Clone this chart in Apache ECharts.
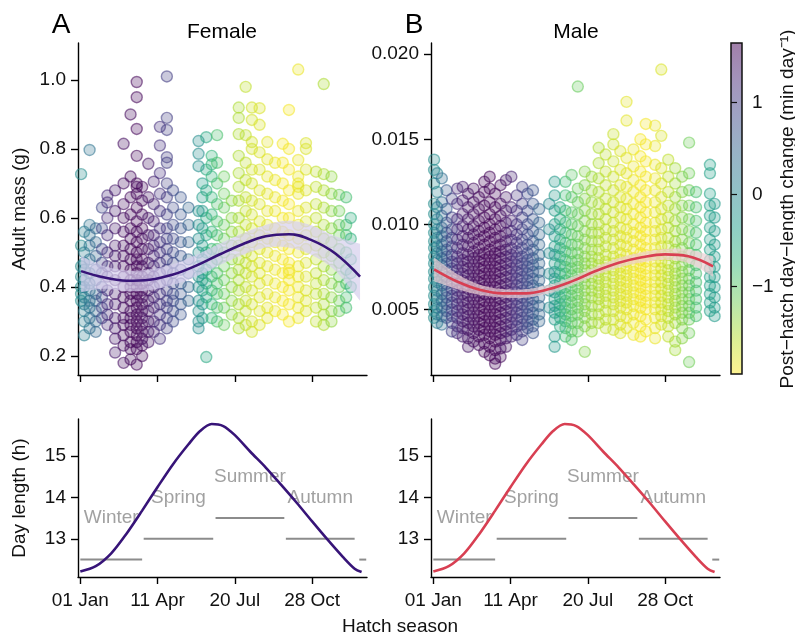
<!DOCTYPE html>
<html>
<head>
<meta charset="utf-8">
<script src="https://cdn.jsdelivr.net/npm/echarts@6/dist/echarts.min.js"></script>
<style>
html, body { margin: 0; padding: 0; background: #fff; }
#chart { width: 795px; height: 637px; }
</style>
</head>
<body>
<div id="chart"></div>
<script>
// ---- axis ticks and labels ----
const seasonTicks = [0, 100, 200, 300];
const seasonTickLabels = ['01 Jan', '11 Apr', '20 Jul', '28 Oct'];
const femaleMassTicks = [0.2, 0.4, 0.6, 0.8, 1.0];
const maleMassTicks = [0.005, 0.010, 0.015, 0.020];
const dayLengthTicks = [13, 14, 15];
const shiftTicks = [-1, 0, 1];
const shiftRange = [-1.95, 1.645];

// ---- adults by hatch day: [hatch day, post-hatch day-length change, adult masses (g)] ----
const femaleColumns = [
  [1, -0.1, [0.727, 0.52, 0.46, 0.43, 0.40, 0.38, 0.36]],
  [5, 0.1, [0.56, 0.50, 0.47, 0.45, 0.42, 0.40, 0.37, 0.35, 0.33, 0.30, 0.26]],
  [12, 0.3, [0.797, 0.58, 0.55, 0.52, 0.48, 0.44, 0.41, 0.39, 0.36, 0.34, 0.31, 0.28]],
  [20, 0.5, [0.57, 0.53, 0.49, 0.45, 0.42, 0.38, 0.36, 0.33, 0.30, 0.27]],
  [28, 0.9, [0.63, 0.57, 0.51, 0.47, 0.44, 0.40, 0.37, 0.34, 0.31]],
  [35, 1.2, [0.665, 0.645, 0.60, 0.55, 0.50, 0.46, 0.43, 0.39, 0.35, 0.32, 0.29]],
  [45, 1.4, [0.68, 0.62, 0.57, 0.52, 0.49, 0.46, 0.42, 0.38, 0.35, 0.31, 0.28, 0.25, 0.21]],
  [56, 1.5, [0.815, 0.70, 0.64, 0.60, 0.56, 0.52, 0.49, 0.46, 0.43, 0.40, 0.37, 0.34, 0.31, 0.29, 0.26, 0.23, 0.18]],
  [65, 1.55, [0.90, 0.72, 0.66, 0.61, 0.57, 0.54, 0.51, 0.48, 0.45, 0.42, 0.40, 0.38, 0.36, 0.33, 0.31, 0.29, 0.27, 0.24, 0.22, 0.19]],
  [73, 1.6, [0.994, 0.95, 0.858, 0.78, 0.70, 0.69, 0.67, 0.63, 0.59, 0.56, 0.53, 0.50, 0.48, 0.46, 0.44, 0.42, 0.40, 0.38, 0.36, 0.34, 0.32, 0.30, 0.28, 0.26, 0.24, 0.22, 0.175]],
  [80, 1.55, [0.69, 0.65, 0.61, 0.57, 0.54, 0.51, 0.48, 0.46, 0.43, 0.41, 0.39, 0.37, 0.35, 0.33, 0.31, 0.29, 0.27, 0.25, 0.23, 0.20]],
  [88, 1.45, [0.757, 0.66, 0.60, 0.55, 0.51, 0.47, 0.44, 0.42, 0.39, 0.36, 0.33, 0.30, 0.27, 0.24]],
  [95, 1.3, [0.705, 0.64, 0.59, 0.55, 0.52, 0.49, 0.46, 0.43, 0.40, 0.37, 0.34, 0.30, 0.27]],
  [103, 1.15, [0.864, 0.81, 0.73, 0.67, 0.62, 0.57, 0.53, 0.50, 0.47, 0.44, 0.41, 0.38, 0.35, 0.32, 0.29, 0.25]],
  [112, 1.0, [1.01, 0.89, 0.855, 0.776, 0.76, 0.70, 0.66, 0.61, 0.57, 0.54, 0.51, 0.48, 0.45, 0.42, 0.39, 0.36, 0.34, 0.31, 0.28]],
  [120, 0.85, [0.68, 0.63, 0.58, 0.54, 0.50, 0.47, 0.44, 0.41, 0.38, 0.36, 0.33, 0.30]],
  [130, 0.7, [0.66, 0.61, 0.57, 0.53, 0.49, 0.45, 0.41, 0.38, 0.35, 0.32]],
  [140, 0.5, [0.63, 0.58, 0.53, 0.48, 0.44, 0.40, 0.36]],
  [153, -0.1, [0.823, 0.786, 0.75, 0.62, 0.58, 0.54, 0.50, 0.46, 0.43, 0.40, 0.36, 0.33, 0.30, 0.28]],
  [158, -0.3, [0.70, 0.66, 0.62, 0.57, 0.52, 0.48, 0.44, 0.42, 0.39, 0.35, 0.31]],
  [163, -0.5, [0.834, 0.74, 0.68, 0.60, 0.55, 0.50, 0.45, 0.41, 0.37, 0.197]],
  [170, -0.7, [0.78, 0.755, 0.72, 0.66, 0.61, 0.56, 0.51, 0.47, 0.43, 0.39, 0.35, 0.31]],
  [177, -0.9, [0.84, 0.76, 0.70, 0.64, 0.59, 0.55, 0.51, 0.48, 0.44, 0.41, 0.38, 0.34, 0.30]],
  [186, -1.1, [0.72, 0.67, 0.63, 0.58, 0.54, 0.50, 0.46, 0.42, 0.38, 0.34, 0.29]],
  [196, -1.3, [0.65, 0.60, 0.56, 0.52, 0.48, 0.44, 0.40, 0.36, 0.32]],
  [205, -1.5, [0.92, 0.89, 0.843, 0.78, 0.73, 0.69, 0.65, 0.60, 0.56, 0.52, 0.48, 0.45, 0.42, 0.39, 0.35, 0.31, 0.28]],
  [214, -1.6, [0.98, 0.84, 0.76, 0.71, 0.66, 0.62, 0.58, 0.54, 0.50, 0.47, 0.44, 0.40, 0.36, 0.33, 0.29]],
  [222, -1.7, [0.92, 0.884, 0.82, 0.80, 0.74, 0.70, 0.65, 0.61, 0.57, 0.53, 0.49, 0.46, 0.43, 0.39, 0.35, 0.30, 0.27]],
  [232, -1.75, [0.918, 0.87, 0.79, 0.74, 0.68, 0.64, 0.59, 0.55, 0.51, 0.47, 0.44, 0.41, 0.37, 0.33, 0.29]],
  [242, -1.8, [0.82, 0.77, 0.72, 0.67, 0.62, 0.58, 0.54, 0.50, 0.46, 0.42, 0.38, 0.34, 0.31]],
  [252, -1.85, [0.76, 0.71, 0.66, 0.62, 0.57, 0.53, 0.49, 0.45, 0.41, 0.37, 0.33]],
  [262, -1.9, [0.815, 0.76, 0.70, 0.65, 0.60, 0.56, 0.52, 0.48, 0.44, 0.40, 0.36, 0.32]],
  [270, -1.9, [0.913, 0.80, 0.74, 0.68, 0.64, 0.60, 0.55, 0.51, 0.47, 0.45, 0.44, 0.42, 0.39, 0.35, 0.30]],
  [282, -1.85, [1.03, 0.768, 0.72, 0.70, 0.69, 0.67, 0.62, 0.58, 0.54, 0.50, 0.46, 0.43, 0.40, 0.37, 0.34, 0.31]],
  [292, -1.75, [0.817, 0.80, 0.74, 0.68, 0.63, 0.59, 0.55, 0.51, 0.47, 0.43, 0.39, 0.36, 0.33]],
  [305, -1.6, [0.734, 0.69, 0.64, 0.60, 0.56, 0.52, 0.48, 0.44, 0.41, 0.38, 0.34, 0.30]],
  [315, -1.5, [0.988, 0.727, 0.68, 0.63, 0.58, 0.54, 0.50, 0.46, 0.42, 0.38, 0.35, 0.32, 0.29]],
  [325, -1.35, [0.72, 0.67, 0.62, 0.57, 0.53, 0.49, 0.45, 0.41, 0.37, 0.33, 0.30]],
  [335, -1.15, [0.667, 0.62, 0.58, 0.55, 0.51, 0.47, 0.43, 0.40, 0.36, 0.33]],
  [344, -0.85, [0.66, 0.58, 0.55, 0.50, 0.45, 0.41, 0.37, 0.34]],
  [350, -0.6, [0.60, 0.54, 0.48, 0.44, 0.40]]
];

const maleColumns = [
  [1, -0.1, [0.0138, 0.0132, 0.0124, 0.0112, 0.0106, 0.0100, 0.0095, 0.0090, 0.0086, 0.0081, 0.0077, 0.0072, 0.0068, 0.0063, 0.0058, 0.0053, 0.0049, 0.0045]],
  [5, 0.05, [0.0130, 0.0119, 0.0110, 0.0103, 0.0097, 0.0092, 0.0087, 0.0083, 0.0079, 0.0075, 0.0070, 0.0066, 0.0061, 0.0056, 0.0051, 0.0047, 0.0042]],
  [11, 0.4, [0.0127, 0.0113, 0.0105, 0.0098, 0.0093, 0.0088, 0.0084, 0.0080, 0.0076, 0.0072, 0.0068, 0.0064, 0.0059, 0.0055, 0.0051, 0.0046, 0.0041]],
  [17, 0.65, [0.0120, 0.0109, 0.0101, 0.0095, 0.0090, 0.0085, 0.0081, 0.0077, 0.0073, 0.0069, 0.0065, 0.0061, 0.0057, 0.0053, 0.0049, 0.0045]],
  [24, 0.95, [0.0115, 0.0104, 0.0097, 0.0092, 0.0087, 0.0082, 0.0078, 0.0074, 0.0070, 0.0066, 0.0062, 0.0058, 0.0054, 0.0050, 0.0046, 0.0042, 0.0037]],
  [31, 1.2, [0.0121, 0.0112, 0.0103, 0.0097, 0.0091, 0.0086, 0.0081, 0.0077, 0.0073, 0.0069, 0.0065, 0.0061, 0.0057, 0.0053, 0.0049, 0.0045, 0.0040, 0.0036]],
  [38, 1.35, [0.0122, 0.0114, 0.0106, 0.0099, 0.0093, 0.0088, 0.0083, 0.0079, 0.0075, 0.0071, 0.0067, 0.0063, 0.0059, 0.0055, 0.0051, 0.0047, 0.0043, 0.0039, 0.0034]],
  [45, 1.45, [0.0118, 0.0110, 0.0103, 0.0097, 0.0092, 0.0087, 0.0082, 0.0078, 0.0074, 0.0070, 0.0066, 0.0062, 0.0058, 0.0054, 0.0050, 0.0046, 0.0042, 0.0038, 0.0033, 0.0028]],
  [52, 1.5, [0.0121, 0.0113, 0.0106, 0.0099, 0.0094, 0.0089, 0.0084, 0.0080, 0.0076, 0.0072, 0.0068, 0.0064, 0.0060, 0.0056, 0.0052, 0.0048, 0.0044, 0.0040, 0.0036, 0.0031]],
  [59, 1.55, [0.0116, 0.0109, 0.0102, 0.0096, 0.0091, 0.0086, 0.0082, 0.0078, 0.0074, 0.0070, 0.0066, 0.0062, 0.0058, 0.0054, 0.0050, 0.0046, 0.0042, 0.0038, 0.0034, 0.0029]],
  [66, 1.6, [0.0125, 0.0119, 0.0111, 0.0104, 0.0098, 0.0093, 0.0088, 0.0083, 0.0079, 0.0075, 0.0071, 0.0067, 0.0063, 0.0059, 0.0055, 0.0051, 0.0047, 0.0043, 0.0039, 0.0035, 0.0030, 0.0025]],
  [73, 1.6, [0.0128, 0.0121, 0.0113, 0.0106, 0.0100, 0.0095, 0.0090, 0.0085, 0.0081, 0.0077, 0.0073, 0.0069, 0.0065, 0.0061, 0.0057, 0.0053, 0.0049, 0.0045, 0.0041, 0.0037, 0.0033, 0.0028, 0.0023]],
  [80, 1.6, [0.0118, 0.0110, 0.0103, 0.0097, 0.0092, 0.0087, 0.0083, 0.0079, 0.0075, 0.0071, 0.0067, 0.0063, 0.0059, 0.0055, 0.0051, 0.0047, 0.0043, 0.0039, 0.0035, 0.0031, 0.0026, 0.0021, 0.0018]],
  [87, 1.55, [0.0123, 0.0112, 0.0105, 0.0099, 0.0093, 0.0088, 0.0084, 0.0080, 0.0076, 0.0072, 0.0068, 0.0064, 0.0060, 0.0056, 0.0052, 0.0048, 0.0044, 0.0040, 0.0036, 0.0032, 0.0027, 0.0022]],
  [94, 1.45, [0.0126, 0.0116, 0.0108, 0.0101, 0.0095, 0.0090, 0.0085, 0.0081, 0.0077, 0.0073, 0.0069, 0.0065, 0.0061, 0.0057, 0.0053, 0.0049, 0.0045, 0.0041, 0.0037, 0.0033, 0.0028]],
  [101, 1.3, [0.0128, 0.0110, 0.0102, 0.0096, 0.0091, 0.0086, 0.0082, 0.0078, 0.0074, 0.0070, 0.0066, 0.0062, 0.0058, 0.0054, 0.0050, 0.0046, 0.0042, 0.0038, 0.0034]],
  [108, 1.15, [0.0117, 0.0108, 0.0100, 0.0094, 0.0089, 0.0084, 0.0080, 0.0076, 0.0072, 0.0068, 0.0064, 0.0060, 0.0056, 0.0052, 0.0048, 0.0044, 0.0040, 0.0035]],
  [115, 1.0, [0.0122, 0.0112, 0.0104, 0.0097, 0.0091, 0.0086, 0.0081, 0.0077, 0.0073, 0.0069, 0.0065, 0.0061, 0.0057, 0.0053, 0.0049, 0.0045, 0.0041, 0.0037, 0.0032]],
  [122, 0.85, [0.0118, 0.0108, 0.0100, 0.0094, 0.0088, 0.0083, 0.0079, 0.0075, 0.0071, 0.0067, 0.0063, 0.0059, 0.0055, 0.0051, 0.0047, 0.0043, 0.0039]],
  [129, 0.7, [0.0120, 0.0112, 0.0103, 0.0096, 0.0090, 0.0085, 0.0080, 0.0076, 0.0072, 0.0068, 0.0064, 0.0060, 0.0056, 0.0052, 0.0048, 0.0044, 0.0040, 0.0036]],
  [137, 0.5, [0.0109, 0.0101, 0.0094, 0.0088, 0.0082, 0.0077, 0.0072, 0.0067, 0.0062, 0.0057, 0.0052, 0.0047, 0.0043]],
  [150, 0.0, [0.0112, 0.0097, 0.0083, 0.0071, 0.0061, 0.0051]],
  [157, -0.25, [0.0125, 0.0117, 0.0108, 0.0100, 0.0093, 0.0087, 0.0082, 0.0077, 0.0072, 0.0068, 0.0064, 0.0060, 0.0056, 0.0052, 0.0048, 0.0044, 0.0034, 0.0028]],
  [164, -0.5, [0.0110, 0.0103, 0.0097, 0.0091, 0.0086, 0.0081, 0.0076, 0.0071, 0.0066, 0.0062, 0.0057, 0.0053, 0.0049, 0.0045, 0.0040]],
  [171, -0.8, [0.0125, 0.0117, 0.0108, 0.0101, 0.0095, 0.0089, 0.0084, 0.0079, 0.0075, 0.0071, 0.0067, 0.0063, 0.0059, 0.0055, 0.0051, 0.0047, 0.0043, 0.0039, 0.0034]],
  [179, -1.0, [0.0129, 0.0116, 0.0107, 0.0100, 0.0094, 0.0088, 0.0083, 0.0078, 0.0074, 0.0070, 0.0066, 0.0062, 0.0058, 0.0054, 0.0050, 0.0046, 0.0042, 0.0037, 0.0032]],
  [187, -1.1, [0.0181, 0.0121, 0.0113, 0.0106, 0.0099, 0.0093, 0.0088, 0.0083, 0.0079, 0.0075, 0.0071, 0.0067, 0.0063, 0.0059, 0.0055, 0.0051, 0.0047, 0.0042, 0.0037]],
  [196, -1.25, [0.0131, 0.0123, 0.0115, 0.0108, 0.0102, 0.0096, 0.0091, 0.0086, 0.0081, 0.0077, 0.0073, 0.0069, 0.0065, 0.0061, 0.0057, 0.0053, 0.0049, 0.0045, 0.0040, 0.0025]],
  [205, -1.4, [0.0128, 0.0120, 0.0113, 0.0106, 0.0100, 0.0095, 0.0090, 0.0085, 0.0081, 0.0077, 0.0073, 0.0069, 0.0065, 0.0061, 0.0057, 0.0052, 0.0047, 0.0042, 0.0037]],
  [214, -1.5, [0.0145, 0.0136, 0.0127, 0.0119, 0.0112, 0.0106, 0.0100, 0.0095, 0.0090, 0.0085, 0.0080, 0.0076, 0.0072, 0.0068, 0.0064, 0.0060, 0.0056, 0.0052, 0.0047, 0.0042]],
  [223, -1.6, [0.0141, 0.0131, 0.0123, 0.0115, 0.0109, 0.0103, 0.0097, 0.0092, 0.0087, 0.0082, 0.0078, 0.0074, 0.0070, 0.0066, 0.0062, 0.0058, 0.0054, 0.0049, 0.0044, 0.0039]],
  [233, -1.65, [0.0153, 0.0147, 0.0137, 0.0128, 0.0120, 0.0113, 0.0107, 0.0101, 0.0096, 0.0091, 0.0086, 0.0081, 0.0077, 0.0073, 0.0069, 0.0065, 0.0061, 0.0057, 0.0053, 0.0049, 0.0044, 0.0038]],
  [242, -1.75, [0.0143, 0.0132, 0.0123, 0.0116, 0.0110, 0.0104, 0.0098, 0.0093, 0.0088, 0.0083, 0.0079, 0.0075, 0.0071, 0.0067, 0.0063, 0.0059, 0.0055, 0.0051, 0.0046, 0.0041, 0.0036]],
  [250, -1.8, [0.0172, 0.0161, 0.0139, 0.0130, 0.0122, 0.0115, 0.0109, 0.0103, 0.0097, 0.0092, 0.0087, 0.0082, 0.0078, 0.0074, 0.0070, 0.0066, 0.0062, 0.0058, 0.0054, 0.0050, 0.0045, 0.0039]],
  [259, -1.85, [0.0144, 0.0134, 0.0126, 0.0119, 0.0112, 0.0106, 0.0100, 0.0095, 0.0090, 0.0085, 0.0080, 0.0076, 0.0072, 0.0068, 0.0064, 0.0060, 0.0056, 0.0052, 0.0047, 0.0042, 0.0035]],
  [268, -1.9, [0.0150, 0.0140, 0.0131, 0.0123, 0.0116, 0.0110, 0.0104, 0.0098, 0.0093, 0.0088, 0.0083, 0.0079, 0.0075, 0.0071, 0.0067, 0.0063, 0.0059, 0.0055, 0.0051, 0.0046, 0.0040, 0.0034]],
  [275, -1.9, [0.0159, 0.0147, 0.0137, 0.0128, 0.0120, 0.0113, 0.0107, 0.0101, 0.0096, 0.0091, 0.0086, 0.0082, 0.0078, 0.0074, 0.0070, 0.0066, 0.0062, 0.0058, 0.0054, 0.0050, 0.0044, 0.0037]],
  [287, -1.85, [0.0158, 0.0146, 0.0135, 0.0127, 0.0120, 0.0113, 0.0107, 0.0101, 0.0096, 0.0091, 0.0086, 0.0082, 0.0078, 0.0074, 0.0070, 0.0066, 0.0062, 0.0058, 0.0054, 0.0050, 0.0045, 0.0039, 0.0033]],
  [295, -1.75, [0.0191, 0.0152, 0.0133, 0.0124, 0.0116, 0.0109, 0.0103, 0.0097, 0.0092, 0.0087, 0.0082, 0.0078, 0.0074, 0.0070, 0.0066, 0.0062, 0.0058, 0.0054, 0.0050, 0.0046, 0.0041]],
  [304, -1.6, [0.0138, 0.0128, 0.0119, 0.0111, 0.0104, 0.0098, 0.0092, 0.0087, 0.0082, 0.0077, 0.0073, 0.0069, 0.0065, 0.0061, 0.0057, 0.0053, 0.0049, 0.0045, 0.0040, 0.0034]],
  [313, -1.45, [0.0133, 0.0124, 0.0116, 0.0109, 0.0102, 0.0096, 0.0090, 0.0085, 0.0080, 0.0075, 0.0071, 0.0067, 0.0063, 0.0059, 0.0055, 0.0051, 0.0047, 0.0042, 0.0031, 0.0026]],
  [322, -1.3, [0.0128, 0.0119, 0.0111, 0.0104, 0.0097, 0.0091, 0.0086, 0.0081, 0.0076, 0.0072, 0.0068, 0.0064, 0.0060, 0.0056, 0.0052, 0.0048, 0.0044, 0.0039, 0.0033]],
  [331, -1.15, [0.0148, 0.0130, 0.0120, 0.0111, 0.0103, 0.0096, 0.0089, 0.0083, 0.0078, 0.0073, 0.0068, 0.0064, 0.0060, 0.0056, 0.0052, 0.0048, 0.0044, 0.0036, 0.0019]],
  [340, -0.85, [0.0119, 0.0110, 0.0102, 0.0095, 0.0088, 0.0082, 0.0076, 0.0071, 0.0066, 0.0061, 0.0056, 0.0051, 0.0046]],
  [358, -0.4, [0.0135, 0.0130, 0.0118, 0.0111, 0.0105, 0.0098, 0.0091, 0.0085, 0.0079, 0.0074, 0.0069, 0.0064, 0.0059, 0.0054, 0.0049]],
  [364, -0.3, [0.0112, 0.0104, 0.0096, 0.0088, 0.0081, 0.0075, 0.0069, 0.0063, 0.0057, 0.0051, 0.0046]]
];

// ---- fitted seasonal trend with confidence band ----
const fitDays = [1, 30, 60, 90, 120, 150, 180, 210, 240, 270, 300, 330, 362];
const femaleFit = [0.446, 0.428, 0.418, 0.421, 0.436, 0.462, 0.494, 0.524, 0.547, 0.553, 0.535, 0.497, 0.430];
const femaleLo = [0.385, 0.395, 0.388, 0.391, 0.406, 0.431, 0.463, 0.493, 0.514, 0.514, 0.492, 0.447, 0.360];
const femaleHi = [0.490, 0.461, 0.448, 0.451, 0.466, 0.493, 0.525, 0.555, 0.580, 0.592, 0.578, 0.547, 0.525];
const maleFit = [0.00735, 0.00665, 0.00615, 0.00594, 0.00594, 0.00619, 0.00666, 0.00725, 0.00774, 0.00806, 0.00823, 0.00812, 0.00752];
const maleLo = [0.00665, 0.00620, 0.00585, 0.00569, 0.00569, 0.00594, 0.00641, 0.00700, 0.00746, 0.00776, 0.00791, 0.00772, 0.00692];
const maleHi = [0.00805, 0.00710, 0.00645, 0.00619, 0.00619, 0.00644, 0.00691, 0.00750, 0.00802, 0.00836, 0.00855, 0.00852, 0.00812];

// ---- photoperiod over the year ----
const photoDays = [0, 20, 40, 60, 80, 100, 120, 140, 155, 170, 185, 200, 220, 240, 260, 280, 300, 320, 340, 355, 364];
const dayLengthHours = [12.21, 12.34, 12.65, 13.13, 13.68, 14.25, 14.80, 15.28, 15.60, 15.77, 15.72, 15.50, 15.10, 14.72, 14.30, 13.87, 13.42, 12.98, 12.56, 12.28, 12.20];

// ---- astronomical seasons ----
const seasonNames = ['Winter', 'Spring', 'Summer', 'Autumn', ''];
const seasonStart = [0, 82, 175, 266, 361];
const seasonEnd = [80, 172, 264, 355, 370];
const seasonLevel = [12.5, 13, 13.5, 13, 12.5];

const FONT = '"Liberation Sans", Arial, Helvetica, sans-serif';
const INK = '#111';
const femaleColor = '#371478';
const maleColor = '#d83f52';

const viridisStops = ['#440154', '#482878', '#3e4989', '#31688e', '#26828e', '#1f9e89', '#35b779', '#6ece58', '#b5de2b', '#fde725'];
function hexRgb(h) { return [1, 3, 5].map(i => parseInt(h.slice(i, i + 2), 16)); }
function viridis(t, a) {
  t = Math.max(0, Math.min(1, t));
  const p = t * (viridisStops.length - 1);
  const i = Math.min(Math.floor(p), viridisStops.length - 2);
  const f = p - i;
  const c0 = hexRgb(viridisStops[i]), c1 = hexRgb(viridisStops[i + 1]);
  const c = c0.map((v, k) => Math.round(v + (c1[k] - v) * f));
  return 'rgba(' + c[0] + ',' + c[1] + ',' + c[2] + ',' + a + ')';
}
// higher day-length change -> purple end of the reversed viridis scale
function shiftPos(s) { return (shiftRange[1] - s) / (shiftRange[1] - shiftRange[0]); }

function columnPoints(columns) {
  const pts = [];
  columns.forEach(([day, shift, masses]) => {
    const t = shiftPos(shift);
    masses.forEach(m => pts.push({
      value: [day, m, shift],
      itemStyle: { color: viridis(t, 0.35), borderColor: viridis(t, 0.7) }
    }));
  });
  return pts;
}
const pairs = (xs, ys) => xs.map((x, i) => [x, ys[i]]);

// Catmull-Rom through pixel points, for a smooth band outline
function spline(pts, steps) {
  const out = [];
  for (let i = 0; i < pts.length - 1; i++) {
    const p0 = pts[Math.max(i - 1, 0)], p1 = pts[i], p2 = pts[i + 1], p3 = pts[Math.min(i + 2, pts.length - 1)];
    for (let s = 0; s < steps; s++) {
      const t = s / steps, t2 = t * t, t3 = t2 * t;
      out.push([0, 1].map(k => 0.5 * ((2 * p1[k]) + (-p0[k] + p2[k]) * t +
        (2 * p0[k] - 5 * p1[k] + 4 * p2[k] - p3[k]) * t2 + (-p0[k] + 3 * p1[k] - 3 * p2[k] + p3[k]) * t3)));
    }
  }
  out.push(pts[pts.length - 1]);
  return out;
}

function bandSeries(idx, lo, hi, fill) {
  return {
    type: 'custom', xAxisIndex: idx, yAxisIndex: idx, silent: true, z: 3,
    data: fitDays.map((d, i) => [d, lo[i], hi[i]]),
    renderItem: function (params, api) {
      if (params.dataIndex !== 0) return null;
      const upper = fitDays.map((d, i) => api.coord([d, hi[i]]));
      const lower = fitDays.map((d, i) => api.coord([d, lo[i]]));
      const pts = spline(upper, 12).concat(spline(lower, 12).reverse());
      return { type: 'polygon', shape: { points: pts }, style: { fill: fill } };
    }
  };
}

function seasonSeries(idx) {
  const out = [];
  seasonStart.forEach((s, i) => {
    out.push({ type: 'line', xAxisIndex: idx, yAxisIndex: idx, symbol: 'none', silent: true,
      lineStyle: { color: '#8c8c8c', width: 2 }, data: [[s, seasonLevel[i]], [seasonEnd[i], seasonLevel[i]]], z: 2 });
  });
  out.push({ type: 'scatter', xAxisIndex: idx, yAxisIndex: idx, symbolSize: 1, silent: true,
    itemStyle: { color: 'rgba(0,0,0,0)' },
    label: { show: true, position: 'inside', formatter: p => p.name, color: '#8a8a8a', fontSize: 19, fontFamily: FONT },
    data: seasonStart.map((s, i) => ({ name: seasonNames[i], value: [(s + seasonEnd[i]) / 2, seasonLevel[i] + 1] }))
      .filter(d => d.name), z: 4 });
  return out;
}

const axisLineStyle = { color: '#000', width: 1.4 };
function xAxisFor(grid, showLabels) {
  return {
    type: 'value', gridIndex: grid, min: -3, max: 371,
    axisLine: { show: true, onZero: false, lineStyle: axisLineStyle },
    axisTick: { show: true, length: 7, customValues: seasonTicks, lineStyle: axisLineStyle },
    axisLabel: { show: showLabels, customValues: seasonTicks, margin: 14, fontSize: 19, color: INK, fontFamily: FONT,
      formatter: v => seasonTickLabels[seasonTicks.indexOf(v)] },
    splitLine: { show: false }
  };
}
function yAxisFor(grid, min, max, ticks, digits) {
  return {
    type: 'value', gridIndex: grid, min: min, max: max,
    axisLine: { show: true, onZero: false, lineStyle: axisLineStyle },
    axisTick: { show: true, length: 7, customValues: ticks, lineStyle: axisLineStyle },
    axisLabel: { customValues: ticks, margin: 12, fontSize: 19, color: INK, fontFamily: FONT,
      formatter: v => v.toFixed(digits) },
    splitLine: { show: false }
  };
}

const colorbarFill = new echarts.graphic.LinearGradient(0, 0, 0, 1,
  viridisStops.map((c, i) => ({ offset: i / (viridisStops.length - 1), color: viridis(i / (viridisStops.length - 1), 0.5) })));

const option = {
  animation: false,
  backgroundColor: '#fff',
  grid: [
    { left: 78, top: 43, width: 289, height: 332 },
    { left: 431, top: 43, width: 289, height: 332 },
    { left: 78, top: 419, width: 289, height: 158 },
    { left: 431, top: 419, width: 289, height: 158 },
    { left: 731, top: 43, width: 11, height: 331, show: true, backgroundColor: colorbarFill, borderColor: '#111', borderWidth: 1.5 }
  ],
  xAxis: [
    xAxisFor(0, false), xAxisFor(1, false), xAxisFor(2, true), xAxisFor(3, true),
    { type: 'value', gridIndex: 4, min: 0, max: 1, show: false }
  ],
  yAxis: [
    yAxisFor(0, 0.145, 1.107, femaleMassTicks, 1),
    yAxisFor(1, 0.00114, 0.02066, maleMassTicks, 3),
    yAxisFor(2, 12.08, 15.89, dayLengthTicks, 0),
    yAxisFor(3, 12.08, 15.89, dayLengthTicks, 0),
    { type: 'value', gridIndex: 4, position: 'right', min: shiftRange[0], max: shiftRange[1],
      axisLine: { show: false },
      axisTick: { show: true, length: 6, customValues: shiftTicks, lineStyle: { color: '#111', width: 1.2 } },
      axisLabel: { customValues: shiftTicks, margin: 10, fontSize: 19, color: INK, fontFamily: FONT,
        formatter: v => (v < 0 ? '\u2212' + Math.abs(v) : String(v)) },
      splitLine: { show: false } }
  ],
  series: [
    { type: 'scatter', xAxisIndex: 0, yAxisIndex: 0, symbolSize: 11, itemStyle: { borderWidth: 1.4 },
      data: columnPoints(femaleColumns), z: 2 },
    { type: 'scatter', xAxisIndex: 1, yAxisIndex: 1, symbolSize: 11, itemStyle: { borderWidth: 1.4 },
      data: columnPoints(maleColumns), z: 2 },
    bandSeries(0, femaleLo, femaleHi, 'rgba(214,206,236,0.7)'),
    bandSeries(1, maleLo, maleHi, 'rgba(236,208,212,0.7)'),
    { type: 'line', xAxisIndex: 0, yAxisIndex: 0, smooth: 0.4, symbol: 'none', silent: true,
      lineStyle: { color: femaleColor, width: 2.6 }, data: pairs(fitDays, femaleFit), z: 5 },
    { type: 'line', xAxisIndex: 1, yAxisIndex: 1, smooth: 0.4, symbol: 'none', silent: true,
      lineStyle: { color: maleColor, width: 2.6 }, data: pairs(fitDays, maleFit), z: 5 },
    ...seasonSeries(2),
    ...seasonSeries(3),
    { type: 'line', xAxisIndex: 2, yAxisIndex: 2, smooth: 0.3, symbol: 'none', silent: true,
      lineStyle: { color: femaleColor, width: 2.6 }, data: pairs(photoDays, dayLengthHours), z: 5 },
    { type: 'line', xAxisIndex: 3, yAxisIndex: 3, smooth: 0.3, symbol: 'none', silent: true,
      lineStyle: { color: maleColor, width: 2.6 }, data: pairs(photoDays, dayLengthHours), z: 5 }
  ],
  graphic: [
    { type: 'text', x: 61, y: 25, style: { text: 'A', font: '28px ' + FONT, fill: '#000', textAlign: 'center', textVerticalAlign: 'middle', align: 'center', verticalAlign: 'middle' } },
    { type: 'text', x: 414, y: 25, style: { text: 'B', font: '28px ' + FONT, fill: '#000', textAlign: 'center', textVerticalAlign: 'middle', align: 'center', verticalAlign: 'middle' } },
    { type: 'text', x: 222, y: 32, style: { text: 'Female', font: '21px ' + FONT, fill: '#000', textAlign: 'center', textVerticalAlign: 'middle', align: 'center', verticalAlign: 'middle' } },
    { type: 'text', x: 576, y: 32, style: { text: 'Male', font: '21px ' + FONT, fill: '#000', textAlign: 'center', textVerticalAlign: 'middle', align: 'center', verticalAlign: 'middle' } },
    { type: 'text', x: 20, y: 209, rotation: Math.PI / 2, style: { text: 'Adult mass (g)', font: '19px ' + FONT, fill: INK, textAlign: 'center', textVerticalAlign: 'middle', align: 'center', verticalAlign: 'middle' } },
    { type: 'text', x: 20, y: 498, rotation: Math.PI / 2, style: { text: 'Day length (h)', font: '19px ' + FONT, fill: INK, textAlign: 'center', textVerticalAlign: 'middle', align: 'center', verticalAlign: 'middle' } },
    { type: 'text', x: 400, y: 627, style: { text: 'Hatch season', font: '19px ' + FONT, fill: INK, textAlign: 'center', textVerticalAlign: 'middle', align: 'center', verticalAlign: 'middle' } },
    { type: 'text', x: 788, y: 209, rotation: Math.PI / 2, style: { text: 'Post\u2212hatch day\u2212length change (min day\u207B\u00B9)', font: '19px ' + FONT, fill: INK, textAlign: 'center', textVerticalAlign: 'middle', align: 'center', verticalAlign: 'middle' } }
  ]
};

const chart = echarts.init(document.getElementById('chart'), null, { renderer: 'canvas' });
chart.setOption(option);
</script>
</body>
</html>
